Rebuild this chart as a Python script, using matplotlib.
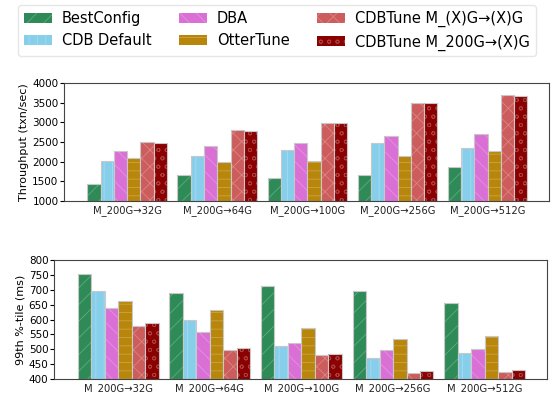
import numpy as np
import matplotlib
matplotlib.use("Agg")
import matplotlib.pyplot as plt
from matplotlib.colors import to_rgb

plt.rcParams['hatch.linewidth'] = 0.6

groups = ["M_200G→32G", "M_200G→64G", "M_200G→100G", "M_200G→256G", "M_200G→512G"]
methods = ["BestConfig", "CDB Default", "DBA", "OtterTune",
           "CDBTune M_(X)G→(X)G", "CDBTune M_200G→(X)G"]
colors = ["#2e8b57", "#87ceeb", "#da70d6", "#b8860b", "#cd5c5c", "#8b0000"]
hatches = ["//", "||", "\\\\", "--", "xx", "oo"]

# throughput (txn/sec), one list per method
tps_best = [1430, 1650, 1575, 1660, 1860]
tps_cdb = [2020, 2150, 2300, 2480, 2360]
tps_dba = [2270, 2390, 2480, 2660, 2700]
tps_otter = [2090, 2000, 2010, 2150, 2280]
tps_x = [2510, 2800, 2975, 3500, 3700]
tps_200 = [2480, 2770, 2975, 3485, 3670]

# 99th percentile latency (ms)
lat_best = [753, 690, 712, 696, 657]
lat_cdb = [697, 599, 510, 470, 487]
lat_dba = [638, 558, 520, 497, 502]
lat_otter = [663, 631, 571, 533, 543]
lat_x = [577, 497, 481, 420, 425]
lat_200 = [588, 504, 485, 427, 431]

tps = [tps_best, tps_cdb, tps_dba, tps_otter, tps_x, tps_200]
lat = [lat_best, lat_cdb, lat_dba, lat_otter, lat_x, lat_200]


def lighter(c, k=0.25):
    r, g, b = to_rgb(c)
    return (r + (1 - r) * k, g + (1 - g) * k, b + (1 - b) * k)


fig = plt.figure(figsize=(5.54, 3.94), dpi=100)
ax1 = fig.add_axes([64/554, 1 - 201/394, 485/554, 118/394])
ax2 = fig.add_axes([54/554, 1 - 379/394, 493/554, 119/394])

x = np.arange(len(groups))
w = 0.147

def draw(ax, data, ylim, yticks, ylabel):
    for i, vals in enumerate(data):
        pos = x + (i - 2.5) * w
        ax.bar(pos, vals, w, color=colors[i], hatch=hatches[i],
               edgecolor=lighter(colors[i]), linewidth=0, label=methods[i])
        ax.bar(pos, vals, w, facecolor="none", edgecolor="#c8c8c8", linewidth=0.8)
    ax.set_ylim(*ylim)
    ax.set_yticks(yticks)
    ax.set_xlim(-0.7, 4.68)
    ax.set_xticks(x)
    ax.set_xticklabels(groups, fontsize=7.2, color="#222222")
    ax.tick_params(axis='y', labelsize=7.5, length=3, pad=1)
    ax.tick_params(axis='x', length=0, pad=3)
    ax.set_ylabel(ylabel, fontsize=8, labelpad=2)
    for s in ax.spines.values():
        s.set_color("#444444")

draw(ax1, tps, (1000, 4000), range(1000, 4001, 500), "Throughput (txn/sec)")
draw(ax2, lat, (400, 800), range(400, 801, 50), "99th %-tile (ms)")

handles, labels = ax1.get_legend_handles_labels()
fig.legend(handles, labels,
           loc="upper left", bbox_to_anchor=(18/554, 1 - 5/394), ncol=3,
           fontsize=10.5, frameon=True, edgecolor="#e0e0e0",
           handlelength=1.9, handletextpad=0.7, columnspacing=1.9,
           labelspacing=0.5, borderaxespad=0)

fig.savefig("out.png", dpi=100)
